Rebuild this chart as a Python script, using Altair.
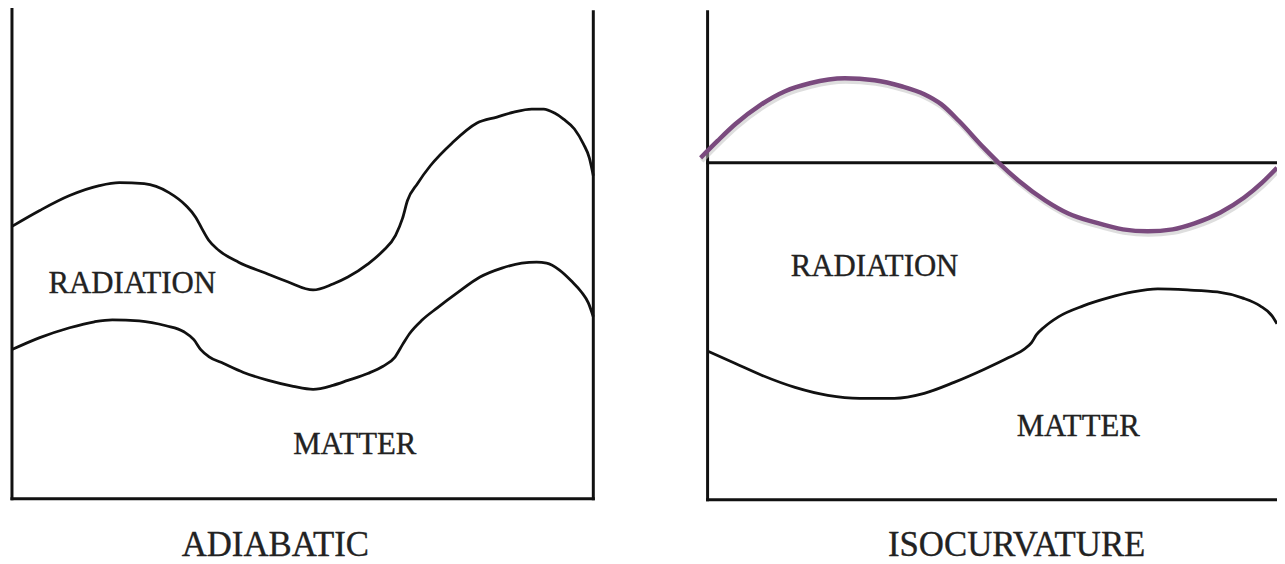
import altair as alt
import pandas as pd

# ---- diagram coordinates (x to the right, y downward, same frame for both panels) ----
# Left panel (ADIABATIC): upper curve = radiation perturbation boundary
ADIA_RAD_X = [12, 40, 70, 100, 120, 145, 170, 187, 197, 203, 210, 220, 240, 267, 290, 315,
              335, 350, 370, 385, 398, 405, 410, 420, 433, 455, 480, 500, 517, 535, 547, 558,
              567, 578, 587, 593, 597]
ADIA_RAD_Y = [226, 210, 195, 185, 182, 183, 192, 205, 217, 228, 240, 250, 262, 273, 282, 290,
              284, 277, 264, 251, 235, 218, 200, 183, 165, 142, 122, 116, 111, 108, 108, 112,
              118, 128, 143, 157, 175]

# Left panel: lower curve = matter perturbation boundary
ADIA_MAT_X = [12, 40, 70, 95, 113, 140, 167, 185, 195, 202, 210, 225, 245, 270, 295, 315,
              335, 350, 370, 385, 397, 405, 412, 425, 440, 460, 483, 505, 525, 540, 550, 563,
              575, 585, 592, 597]
ADIA_MAT_Y = [350, 338, 328, 322, 320, 321, 326, 332, 340, 350, 357, 364, 373, 381, 387, 390,
              386, 381, 374, 367, 358, 345, 334, 320, 308, 293, 277, 268, 263, 262, 263, 270,
              281, 292, 303, 317]

# Right panel (ISOCURVATURE): purple radiation wave
ISO_RAD_X = [705, 722, 740, 765, 790, 815, 850, 880, 907, 930, 947, 965, 990, 1005, 1025,
             1052, 1075, 1102, 1130, 1155, 1180, 1202, 1228, 1252, 1270, 1285]
ISO_RAD_Y = [157, 140, 123, 104, 90, 82, 77, 79, 85, 93, 103, 120, 147, 162, 180,
             200, 213, 222, 229, 231, 229, 223, 212, 197, 182, 167]

# Right panel: matter boundary
ISO_MAT_X = [713, 740, 767, 800, 833, 865, 900, 930, 960, 990, 1015, 1030, 1038, 1043, 1050,
             1065, 1090, 1115, 1140, 1165, 1195, 1225, 1250, 1268, 1280, 1285]
ISO_MAT_Y = [352, 364, 376, 388, 396, 399, 399, 394, 383, 370, 358, 350, 343, 335, 328,
             317, 306, 298, 292, 289, 290, 292, 298, 306, 316, 324]

# Frame segments (x1, y1, x2, y2)
SEG_X1 = [12, 597, 12, 712, 712, 712]
SEG_Y1 = [6, 10, 500, 10, 501, 162]
SEG_X2 = [12, 597, 597, 712, 1285, 1285]
SEG_Y2 = [500, 500, 500, 501, 501, 162]

# Text labels
LABELS = ["RADIATION", "MATTER", "RADIATION", "MATTER"]
LABEL_X = [133, 357, 880, 1085]
LABEL_Y = [293, 455, 276, 437]
TITLES = ["ADIABATIC", "ISOCURVATURE"]
TITLE_X = [277, 1023]
TITLE_Y = [558, 558]

W, H = 1277, 556
xs = alt.Scale(domain=[8, 1285])
ys = alt.Scale(domain=[564, 8])

black_curves = pd.concat([
    pd.DataFrame({"x": ADIA_RAD_X, "y": ADIA_RAD_Y, "curve": "adia_rad", "i": range(len(ADIA_RAD_X))}),
    pd.DataFrame({"x": ADIA_MAT_X, "y": ADIA_MAT_Y, "curve": "adia_mat", "i": range(len(ADIA_MAT_X))}),
    pd.DataFrame({"x": ISO_MAT_X, "y": ISO_MAT_Y, "curve": "iso_mat", "i": range(len(ISO_MAT_X))}),
])
purple = pd.DataFrame({"x": ISO_RAD_X, "y": ISO_RAD_Y, "i": range(len(ISO_RAD_X))})
segs = pd.DataFrame({"x": SEG_X1, "y": SEG_Y1, "x2": SEG_X2, "y2": SEG_Y2})
labels = pd.DataFrame({"t": LABELS, "x": LABEL_X, "y": LABEL_Y})
titles = pd.DataFrame({"t": TITLES, "x": TITLE_X, "y": TITLE_Y})

frame = alt.Chart(segs).mark_rule(color="#111", strokeWidth=3, strokeCap="square").encode(
    x=alt.X("x:Q", scale=xs, axis=None),
    y=alt.Y("y:Q", scale=ys, axis=None),
    x2="x2:Q", y2="y2:Q",
)

curves = alt.Chart(black_curves).mark_line(
    color="#111", strokeWidth=2.8, interpolate="monotone"
).encode(
    x=alt.X("x:Q", scale=xs, axis=None),
    y=alt.Y("y:Q", scale=ys, axis=None),
    detail="curve:N",
    order="i:Q",
)

shadow = alt.Chart(purple).mark_line(
    color="#bdbdbd", strokeWidth=5, opacity=0.5, interpolate="monotone", xOffset=1, yOffset=3
).encode(
    x=alt.X("x:Q", scale=xs, axis=None),
    y=alt.Y("y:Q", scale=ys, axis=None),
    order="i:Q",
)

wave = alt.Chart(purple).mark_line(
    color="#7a4a7e", strokeWidth=4.5, interpolate="monotone"
).encode(
    x=alt.X("x:Q", scale=xs, axis=None),
    y=alt.Y("y:Q", scale=ys, axis=None),
    order="i:Q",
)

label_marks = alt.Chart(labels).mark_text(
    font="Liberation Serif", fontSize=31, color="#222", stroke="#222", strokeWidth=0.35,
    baseline="alphabetic", align="center"
).encode(
    x=alt.X("x:Q", scale=xs, axis=None),
    y=alt.Y("y:Q", scale=ys, axis=None),
    text="t:N",
)

title_marks = alt.Chart(titles).mark_text(
    font="Liberation Serif", fontSize=35, color="#222", stroke="#222", strokeWidth=0.35,
    baseline="alphabetic", align="center"
).encode(
    x=alt.X("x:Q", scale=xs, axis=None),
    y=alt.Y("y:Q", scale=ys, axis=None),
    text="t:N",
)

chart = alt.layer(frame, curves, shadow, wave, label_marks, title_marks).properties(
    width=W, height=H, padding=0, autosize="none", background="white"
).configure_view(stroke=None)

chart.save("out.html", embed_options={"renderer": "svg", "actions": False})
